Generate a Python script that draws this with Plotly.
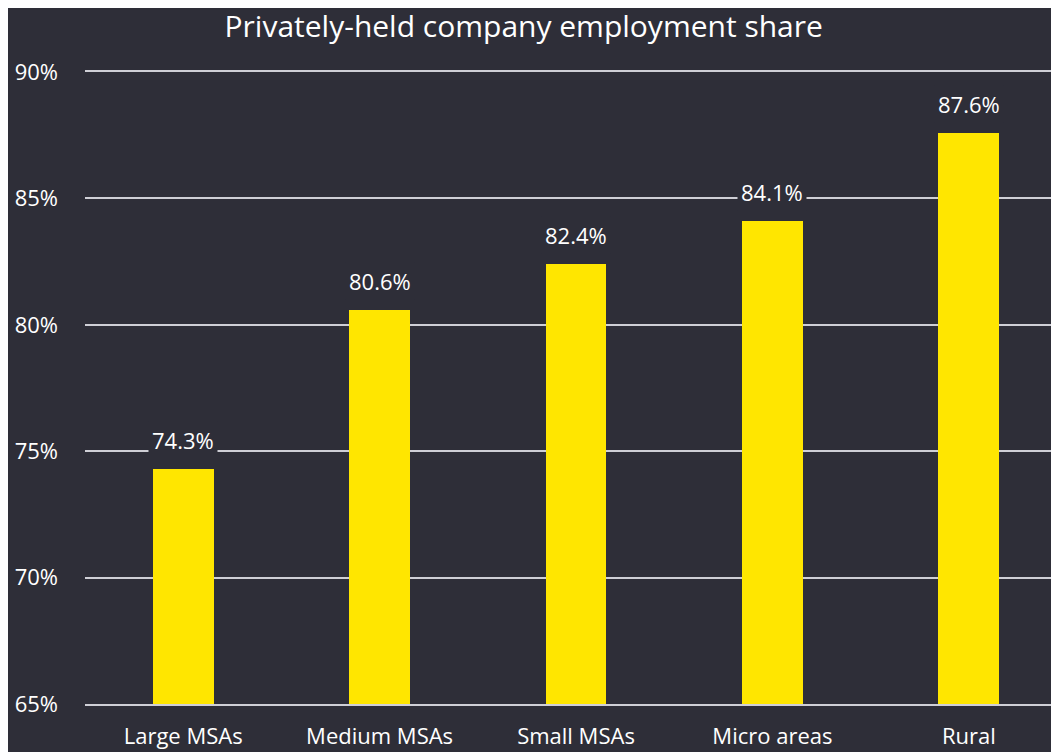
import plotly.graph_objects as go

categories = ["Large MSAs", "Medium MSAs", "Small MSAs", "Micro areas", "Rural"]
values = [74.3, 80.6, 82.4, 84.1, 87.6]
labels = ["74.3%", "80.6%", "82.4%", "84.1%", "87.6%"]
tick_vals = [65, 70, 75, 80, 85, 90]
tick_text = ["65%", "70%", "75%", "80%", "85%", "90%"]

BG = "#2e2e38"
GRID = "#cfcfd6"
FONT = "Open Sans"

fig = go.Figure(go.Bar(x=list(range(len(categories))), y=values,
                       marker=dict(color="#ffe600", line=dict(width=0)),
                       width=0.31, hoverinfo="skip"))

for i, (v, t) in enumerate(zip(values, labels)):
    fig.add_annotation(x=i, y=v, text=t, showarrow=False, yshift=29,
                       bgcolor=BG, borderpad=3,
                       font=dict(family=FONT, size=22, color="#ffffff"))

fig.update_layout(
    width=1059, height=752,
    paper_bgcolor=BG, plot_bgcolor=BG,
    margin=dict(l=77, r=0, t=64, b=56),
    title=dict(text="Privately-held company employment share", x=0.487, xanchor="center",
               y=0.976, yanchor="middle",
               font=dict(family=FONT, size=30, color="#ffffff")),
    showlegend=False,
    bargap=0,
)
fig.update_xaxes(tickvals=list(range(len(categories))), ticktext=categories,
                 range=[-0.5, 4.5], showgrid=False, zeroline=False,
                 showline=True, mirror=True, linecolor=GRID, linewidth=2,
                 ticks="", ticklabelstandoff=12,
                 tickfont=dict(family=FONT, size=22, color="#ffffff"))
fig.update_yaxes(range=[65, 90], tickvals=tick_vals, ticktext=tick_text,
                 showgrid=True, gridcolor=GRID, gridwidth=2, zeroline=False,
                 showline=False, ticks="", ticklabelstandoff=26,
                 tickfont=dict(family=FONT, size=22, color="#ffffff"))

fig.write_html("out.html")
